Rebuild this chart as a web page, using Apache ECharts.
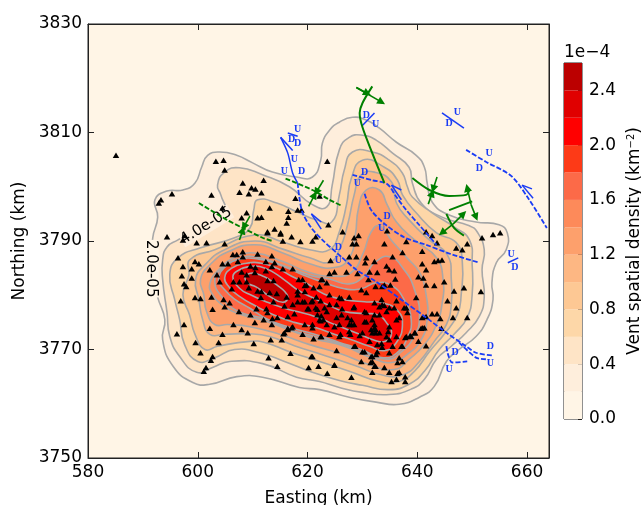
<!DOCTYPE html>
<html><head><meta charset="utf-8">
<style>html,body{margin:0;padding:0;background:#fff}#c{width:641px;height:505px}</style>
<script src="https://cdn.jsdelivr.net/npm/echarts@6/dist/echarts.min.js"></script>
</head><body><div id="c"></div>
<script>
const bandColors=['#fff5e6','#feeedc','#fee4c6','#fdd7a8','#fdc894','#fdb783','#fda06c','#fd8a5a','#fc6a48','#fd3a17','#ff0000','#e00000','#bb0000'];
const bandWidth=0.2;
const L1=[[592.2,3797.6],[594.4,3799.2],[597.3,3799.4],[599.5,3800.7],[600.7,3803.6],[601.8,3805.8],[604.0,3806.4],[607.1,3805.8],[610.0,3804.4],[613.6,3802.7],[618.0,3801.8],[620.9,3801.8],[622.4,3804.9],[622.7,3808.0],[624.0,3810.4],[625.8,3811.9],[628.2,3812.8],[630.7,3812.3],[633.1,3810.8],[636.2,3808.2],[639.8,3805.8],[641.3,3803.6],[641.8,3800.7],[642.7,3797.2],[645.8,3794.8],[650.7,3793.5],[654.9,3793.0],[656.4,3791.5],[656.2,3788.4],[654.4,3786.0],[653.6,3782.3],[653.8,3779.2],[652.7,3775.5],[650.7,3772.4],[647.6,3770.0],[645.3,3767.8],[643.1,3763.2],[640.4,3761.2],[636.7,3759.9],[632.5,3760.3],[627.6,3761.2],[622.2,3762.6],[618.5,3763.0],[611.8,3764.9],[607.1,3765.0],[602.2,3763.6],[599.1,3763.9],[595.5,3766.9],[593.6,3771.8],[594.0,3775.5],[592.7,3779.6],[591.6,3784.7],[591.8,3790.6],[592.7,3794.4]];
const L2=[[593.6,3782.9],[593.6,3786.5],[594.4,3788.9],[596.4,3790.2],[600.4,3792.6],[604.9,3795.2],[604.2,3798.5],[603.6,3800.3],[604.9,3802.7],[607.6,3803.5],[611.8,3802.2],[616.7,3800.0],[620.9,3796.7],[623.5,3796.3],[624.5,3800.3],[625.8,3806.8],[627.6,3809.1],[630.0,3809.5],[632.5,3808.6],[635.5,3806.2],[638.5,3803.6],[639.1,3800.7],[640.7,3797.0],[644.5,3794.4],[649.5,3792.8],[650.9,3791.7],[652.2,3788.4],[651.8,3784.7],[652.2,3779.7],[651.3,3776.1],[648.9,3773.1],[646.2,3770.6],[643.5,3768.2],[641.3,3764.5],[638.9,3762.7],[634.9,3761.7],[630.0,3762.1],[625.8,3763.0],[622.2,3764.1],[618.0,3764.9],[611.8,3767.4],[605.8,3767.8],[602.7,3766.7],[599.8,3765.8],[596.7,3768.7],[594.9,3772.4],[594.4,3776.8]];
const L3=[[596.4,3786.9],[600.4,3788.7],[606.7,3790.6],[609.5,3792.4],[610.2,3795.7],[610.9,3797.6],[614.4,3797.0],[618.0,3795.4],[621.6,3793.9],[624.4,3793.5],[625.8,3798.5],[626.7,3803.1],[628.2,3806.4],[631.8,3806.4],[634.9,3804.9],[637.3,3802.5],[638.2,3800.0],[639.1,3798.1],[642.7,3795.2],[646.7,3792.6],[649.5,3790.2],[650.0,3785.6],[650.0,3780.1],[649.1,3775.9],[646.7,3772.8],[644.0,3770.0],[641.3,3766.0],[638.5,3763.6],[634.9,3762.6],[630.0,3763.4],[625.8,3764.3],[620.4,3766.0],[615.8,3767.8],[611.3,3769.4],[606.7,3770.0],[603.1,3768.5],[600.0,3767.8],[597.6,3770.9],[596.7,3775.5],[595.8,3779.2],[594.9,3783.8]];
const L4=[[598.5,3786.5],[603.1,3788.4],[610.4,3791.1],[615.5,3789.8],[620.4,3788.4],[624.0,3788.4],[625.8,3791.7],[627.1,3796.7],[628.0,3801.6],[630.0,3804.9],[634.0,3803.6],[636.4,3801.2],[637.3,3798.5],[639.8,3795.2],[643.5,3791.5],[647.1,3789.7],[648.2,3786.2],[648.0,3780.1],[647.3,3776.4],[644.9,3772.8],[642.2,3769.6],[639.5,3766.0],[636.7,3764.1],[633.1,3764.1],[627.6,3766.0],[622.2,3767.8],[616.7,3769.6],[612.2,3771.3],[609.5,3771.5],[603.6,3770.6],[601.3,3770.0],[599.5,3772.8],[598.5,3776.4],[597.3,3780.1],[598.4,3783.8]];
const L5=[[599.6,3782.9],[601.3,3785.6],[604.9,3788.4],[610.4,3790.0],[615.5,3788.5],[620.4,3786.9],[624.0,3786.1],[625.8,3788.4],[627.3,3793.0],[628.5,3798.5],[629.8,3802.2],[632.2,3802.7],[635.3,3800.9],[636.2,3797.0],[638.5,3793.9],[642.2,3790.2],[645.5,3787.4],[646.2,3782.9],[646.2,3778.3],[645.3,3774.6],[643.1,3771.5],[640.4,3767.8],[637.6,3765.4],[634.0,3765.2],[628.5,3767.1],[623.1,3768.9],[617.6,3770.7],[613.1,3772.4],[609.5,3772.9],[604.9,3772.8],[602.2,3772.8],[600.9,3775.5],[600.2,3779.2]];
const L6=[[600.5,3782.9],[602.2,3785.6],[605.5,3788.0],[610.4,3789.3],[615.5,3787.8],[620.4,3785.8],[624.9,3785.1],[627.6,3786.9],[628.7,3791.1],[629.3,3796.1],[630.7,3799.4],[633.1,3799.4],[634.5,3796.7],[636.2,3793.5],[639.5,3790.2],[643.5,3786.9],[644.7,3782.9],[644.5,3778.3],[643.5,3774.6],[641.3,3770.9],[638.5,3768.2],[635.8,3766.3],[631.3,3767.2],[625.8,3769.3],[620.4,3770.9],[614.9,3772.8],[609.5,3774.2],[605.5,3774.6],[603.1,3774.6],[601.6,3777.0],[601.1,3780.1]];
const L8=[[602.2,3782.1],[603.8,3784.7],[606.7,3786.9],[610.4,3787.8],[615.5,3786.2],[620.4,3784.2],[624.9,3783.5],[628.0,3784.2],[630.2,3787.9],[631.5,3791.5],[633.1,3792.8],[635.3,3790.1],[638.2,3786.8],[640.4,3784.2],[641.6,3780.1],[641.8,3775.5],[640.7,3771.8],[638.2,3769.1],[635.3,3767.6],[631.6,3768.5],[626.7,3770.6],[621.3,3772.0],[616.4,3773.7],[612.2,3775.3],[609.5,3776.0],[606.2,3777.1],[604.0,3778.6],[602.7,3780.1]];
const L9=[[603.1,3782.5],[604.5,3785.0],[607.6,3786.7],[610.4,3787.1],[615.5,3785.5],[620.4,3783.7],[624.0,3783.0],[627.6,3782.1],[630.4,3783.6],[632.2,3786.0],[634.9,3787.1],[637.6,3784.7],[639.5,3781.0],[640.4,3775.9],[639.3,3772.2],[637.1,3769.6],[634.5,3768.2],[630.4,3769.4],[625.8,3771.1],[621.3,3772.4],[616.7,3773.7],[612.2,3775.7],[609.5,3776.3],[606.7,3777.4],[604.7,3779.3]];
const L10=[[603.8,3782.9],[605.1,3785.3],[607.6,3786.6],[610.9,3786.7],[614.9,3785.6],[619.1,3783.8],[623.1,3782.3],[626.7,3781.2],[629.8,3781.2],[632.5,3782.3],[635.3,3781.8],[637.6,3779.2],[638.9,3775.5],[638.2,3772.2],[636.2,3769.3],[633.5,3768.5],[629.8,3770.0],[625.8,3771.3],[621.3,3772.8],[616.7,3774.1],[612.7,3775.6],[609.5,3777.6],[606.7,3779.3],[604.9,3781.0]];
const L11=[[604.9,3783.2],[606.2,3785.0],[608.9,3785.9],[611.6,3785.9],[614.4,3785.0],[617.1,3783.5],[620.0,3782.1],[623.1,3780.2],[626.7,3779.2],[630.4,3778.8],[633.6,3778.6],[636.4,3777.2],[637.3,3774.6],[636.2,3771.3],[634.0,3769.8],[631.3,3770.6],[628.0,3771.8],[624.9,3772.8],[621.3,3774.1],[617.6,3775.0],[614.0,3776.3],[610.4,3778.1],[607.6,3779.8],[605.8,3781.4]];
const L12=[[606.4,3783.4],[607.6,3784.7],[609.5,3785.3],[611.3,3785.3],[613.5,3784.4],[616.2,3782.5],[618.5,3780.8],[621.3,3779.4],[624.0,3778.1],[626.7,3777.0],[630.4,3776.6],[632.7,3776.4],[634.5,3774.8],[635.3,3772.9],[634.2,3771.5],[632.2,3771.7],[629.5,3772.8],[626.7,3773.9],[624.0,3775.0],[621.3,3776.1],[618.5,3776.9],[615.8,3777.6],[612.7,3778.7],[609.8,3780.0],[607.6,3781.3]];
const L13=[[608.9,3783.8],[611.3,3783.8],[614.4,3781.9],[616.4,3779.8],[615.5,3778.7],[613.1,3779.8],[610.7,3781.5],[608.9,3782.4]];
const contourLevels=[L1,L2,L3,L4,L5,L6,L8,L9,L10,L11,L12,L13];
const vents=[[585.1,3805.8],[603.3,3804.7],[604.7,3804.9],[604.9,3803.1],[608.2,3800.7],[612.0,3801.2],[609.8,3799.8],[610.5,3799.6],[607.6,3799.0],[609.3,3798.7],[611.6,3798.9],[617.8,3797.9],[602.5,3798.5],[595.3,3798.7],[593.3,3797.6],[592.9,3797.0],[604.5,3796.1],[608.9,3795.2],[613.1,3796.1],[616.5,3795.5],[618.2,3795.7],[618.9,3795.7],[616.5,3794.4],[616.2,3793.3],[608.0,3794.3],[610.9,3794.3],[611.6,3794.4],[614.0,3792.2],[612.7,3791.7],[615.1,3791.3],[617.1,3790.8],[615.5,3790.0],[618.7,3789.9],[621.5,3790.8],[620.9,3790.0],[594.4,3790.8],[597.6,3791.0],[597.3,3790.2],[599.8,3789.7],[601.6,3789.7],[604.9,3789.5],[622.2,3798.3],[623.8,3793.0],[623.6,3804.7],
[596.4,3786.9],[597.3,3785.3],[597.1,3783.6],[598.9,3784.9],[599.5,3786.2],[600.2,3785.8],[598.9,3783.2],[597.5,3782.1],[597.9,3781.6],[596.9,3779.0],[599.5,3779.6],[600.5,3779.4],[602.2,3784.7],[603.5,3783.8],[604.0,3782.5],[602.5,3779.7],[602.7,3777.4],[604.7,3779.2],[605.8,3778.6],[604.9,3777.9],[607.5,3777.0],[609.6,3776.4],[610.4,3775.0],[612.0,3775.5],[606.5,3774.6],[608.0,3773.7],[609.1,3773.1],[604.5,3772.8],[602.2,3773.9],[597.5,3774.6],[596.2,3772.9],[599.6,3771.3],[603.8,3771.3],[610.2,3771.1],[613.3,3771.8],[615.3,3771.8],[600.5,3769.4],[602.7,3768.7],[602.4,3768.0],[601.5,3766.7],[601.1,3766.0],[612.9,3768.5],[616.9,3769.3],[620.9,3768.7],[614.5,3766.9],[620.2,3766.7],[622.0,3766.9],[623.6,3765.6],
[606.4,3787.5],[607.1,3787.5],[608.2,3788.0],[608.2,3787.1],[610.9,3787.6],[613.5,3787.3],[612.4,3786.2],[614.0,3786.0],[615.5,3784.9],[617.3,3784.9],[604.5,3785.8],[605.5,3785.8],[607.3,3786.2],[609.6,3785.4],[610.5,3785.1],[612.4,3784.5],[613.5,3785.3],[608.0,3784.3],[610.4,3784.2],[608.9,3783.8],[607.6,3782.5],[606.5,3782.5],[608.9,3782.5],[609.3,3781.4],[606.2,3781.2],[612.7,3782.7],[613.8,3782.7],[610.9,3780.8],[611.6,3780.7],[613.1,3780.5],[614.4,3780.3],[611.5,3779.6],[613.8,3778.8],[616.2,3779.7],[615.8,3778.0],[618.2,3778.8],[619.1,3778.8],[618.4,3782.9],[619.1,3782.9],[619.8,3781.9],[621.1,3781.4],[622.7,3782.9],[622.2,3781.6],[618.2,3780.8],[610.7,3777.5],[612.5,3777.5],[612.7,3776.8],[614.5,3775.9],[613.6,3775.7],[616.4,3776.1],[617.6,3776.6],[620.2,3777.5],[621.5,3777.7],[622.4,3779.0],[620.9,3779.0],[623.1,3777.7],[621.8,3776.4],[622.4,3775.3],[622.9,3775.5],[613.5,3774.6],[617.1,3774.0],[616.4,3773.9],[615.6,3772.9],[620.9,3774.0],[619.1,3772.8],[622.4,3772.4],[621.1,3772.0],[624.0,3772.8],
[612.7,3791.5],[615.1,3791.5],[628.5,3790.6],[628.2,3789.5],[628.9,3789.5],[634.0,3789.5],[624.2,3786.4],[627.6,3787.1],[628.9,3787.1],[630.7,3786.9],[635.5,3787.1],[630.5,3786.0],[632.2,3786.2],[634.4,3785.4],[631.3,3784.3],[632.7,3784.2],[634.9,3784.7],[635.8,3784.5],[629.1,3784.0],[627.1,3784.3],[624.9,3784.3],[624.0,3784.0],[631.1,3782.9],[634.0,3781.9],[635.1,3781.9],[636.0,3783.0],[633.6,3781.6],[632.4,3781.6],[629.8,3781.0],[630.7,3780.5],[627.6,3779.7],[623.5,3782.3],[622.5,3782.9],[619.5,3781.8],[619.5,3780.7],[618.2,3780.1],[621.6,3779.7],[624.0,3780.1],[625.8,3779.6],[633.5,3779.2],[632.2,3778.6],[634.0,3778.1],[633.1,3777.9],[636.2,3779.0],[635.8,3777.7],[634.4,3777.0],[628.4,3777.7],[630.7,3776.8],[631.8,3775.5],[630.7,3775.1],[636.2,3775.5],[624.0,3778.3],[626.2,3779.4],[625.3,3778.3],[619.5,3778.8],[620.7,3778.8],[621.8,3777.4],[620.0,3777.5],[617.3,3778.3],[623.5,3777.0],[627.3,3775.9],[628.0,3774.6],[626.2,3776.4],[625.3,3775.9],[622.5,3776.2],[622.2,3775.5],[623.5,3774.6],[624.9,3774.2],[620.9,3774.6],[619.5,3774.6],[617.3,3774.2],[629.5,3772.6],[632.2,3774.0],[631.8,3773.1],[633.1,3773.1],[634.4,3772.4],[632.7,3770.9],[628.7,3770.6],[630.4,3769.6],[632.7,3769.6],[633.6,3770.4],[635.5,3770.6],[622.5,3772.4],[626.0,3772.8],[627.6,3773.3],[616.4,3773.7],[615.8,3773.1],[625.3,3769.8],[620.7,3768.7],[629.8,3767.8],[632.5,3769.1],[631.5,3767.6],[632.4,3766.9],[624.9,3767.2],[634.0,3766.7],[634.9,3765.8],[636.4,3765.6],[631.8,3765.8],
[626.4,3791.7],[629.3,3791.0],[634.5,3791.9],[638.0,3789.9],[641.6,3791.7],[642.7,3791.0],[643.6,3789.7],[640.9,3788.1],[647.1,3788.7],[648.2,3788.4],[649.1,3789.5],[651.8,3790.6],[653.8,3791.2],[655.1,3791.5],[637.3,3787.9],[643.1,3786.2],[643.8,3786.4],[644.5,3786.5],[640.9,3785.8],[641.6,3784.7],[640.2,3783.4],[641.1,3783.2],[641.6,3781.9],[643.1,3781.8],[644.9,3782.5],[646.7,3780.8],[648.5,3781.4],[651.6,3780.7],[645.5,3779.0],[647.1,3777.7],[639.8,3779.6],[638.0,3777.7],[649.1,3775.9],[646.5,3775.9],[644.2,3775.7],[642.7,3776.6],[643.6,3776.6],[641.6,3776.1],[641.3,3774.0],[640.7,3773.9],[644.4,3773.9],[639.6,3773.1],[638.7,3772.6],[637.8,3772.2],[636.2,3772.4],[640.2,3771.5],[641.6,3770.7],[637.3,3770.6],[634.9,3769.4],[630.0,3769.6],[631.6,3768.7],[636.7,3768.5],[637.3,3767.8],[636.4,3767.6],[631.8,3767.8],[632.2,3766.9],[637.8,3765.0],[636.7,3765.8],[636.2,3764.5],[635.3,3764.1],[637.8,3764.1],[628.0,3764.9],[624.9,3767.1],
[633.6,3778.3],[630.4,3777.0],[628.5,3777.9],[626.3,3777.5],[632.2,3776.4],[633.1,3776.4],[634.9,3777.7],[636.7,3775.9],[637.6,3777.7],[638.2,3776.8],[630.4,3775.1],[628.0,3775.5],[627.6,3774.6],[628.5,3774.6],[625.8,3774.6],[632.2,3774.6],[634.9,3774.2],[632.4,3773.7],[631.6,3773.7],[632.4,3773.1],[630.0,3773.1],[634.7,3773.3],[627.8,3772.8],[631.3,3771.5],[633.5,3771.1],[634.9,3771.8],[637.1,3770.6],[638.0,3772.4],[638.9,3772.4],[639.5,3773.1],[641.0,3774.0],[640.9,3775.9],[625.8,3772.4],[628.5,3770.6],[631.8,3768.7]];
const blueSolid=[
 [[615.1,3809.1],[616.4,3806.2],[617.3,3802.5],[618.2,3800.7]],
 [[644.5,3813.6],[648.5,3810.8]],
 [[632.2,3813.6],[630.0,3811.3]],
 [[656.5,3786.0],[658.4,3786.9]],
 [[616.4,3809.9],[618.2,3809.3]],
 [[615.1,3809.1],[617.3,3806.7]],
 [[620.7,3795.0],[622.5,3793.5]],[[620.7,3795.0],[622.5,3792.2]],
 [[635.3,3800.3],[637.1,3799.4]],[[635.3,3800.3],[637.1,3797.6]],
 [[659.1,3800.3],[660.9,3799.6]],[[659.1,3800.3],[661.1,3797.9]]];
const blueDashed=[
 [[618.2,3800.7],[618.5,3798.1],[619.1,3795.2],[620.7,3792.4],[622.7,3790.2],[625.8,3787.4],[628.9,3784.7],[632.5,3782.5],[637.6,3778.8],[641.6,3775.9],[645.3,3773.1],[648.9,3770.6],[650.7,3769.4],[653.6,3768.9]],
 [[647.6,3771.3],[650.7,3768.5],[652.5,3768.2]],
 [[645.3,3770.6],[645.6,3769.1],[646.4,3767.6],[649.1,3767.8]],
 [[628.2,3802.2],[631.8,3801.2],[634.5,3800.5],[636.2,3798.1],[638.0,3795.7],[640.4,3792.9],[643.5,3789.3]],
 [[630.4,3798.7],[631.6,3795.7],[634.0,3793.2],[637.6,3790.7],[641.6,3789.3],[646.4,3787.5],[651.3,3786.0]],
 [[648.9,3806.8],[652.5,3804.6],[657.1,3802.0],[660.4,3797.6],[663.6,3792.4]]];
const greenDashed=[
 [[600.2,3797.0],[605.3,3793.9],[608.2,3792.4],[611.8,3790.6],[613.6,3790.0]],
 [[616.0,3801.5],[620.9,3799.4],[624.0,3797.6],[626.2,3796.5]]];
const greenSolid=[
 [[631.8,3818.5],[630.0,3815.4],[629.5,3813.6],[630.0,3811.0],[631.8,3806.2],[634.0,3800.7]],
 [[639.1,3801.6],[642.2,3799.4],[645.8,3798.3],[648.9,3798.5],[649.5,3799.4]],
 [[645.8,3795.7],[650.0,3797.3]],
 [[645.3,3795.0],[646.7,3792.4],[648.5,3791.0]]];
const greenArrows=[
 [[609.5,3794.6],[608.4,3792.6]],[[607.6,3790.2],[608.2,3792.0]],
 [[622.9,3801.2],[621.6,3799.0]],[[620.2,3796.4],[621.3,3798.5]],
 [[628.9,3818.3],[633.5,3815.6]],[[628.9,3818.3],[630.9,3817.2]],
 [[643.6,3801.8],[642.9,3799.6]],[[642.0,3796.8],[642.7,3798.8]],
 [[649.8,3796.7],[649.1,3799.8]],[[649.8,3796.7],[650.7,3794.4]],
 [[646.5,3793.1],[648.4,3795.0]],[[646.5,3793.1],[644.5,3791.5]]];
const faultLabels=[[618.2,3810.6,'U'],[617.1,3808.8,'D'],[618.2,3807.9,'D'],[617.6,3805.1,'U'],[615.8,3802.9,'U'],[618.9,3802.9,'D'],[630.7,3813.2,'D'],[632.4,3811.5,'U'],[647.3,3813.7,'U'],[645.8,3811.7,'D'],[653.1,3806.2,'U'],[651.3,3803.4,'D'],[630.4,3802.7,'D'],[629.1,3800.7,'U'],[634.5,3794.5,'D'],[633.5,3792.4,'U'],[625.6,3788.9,'D'],[625.6,3786.5,'U'],[657.1,3787.6,'U'],[657.8,3785.2,'D'],[646.9,3769.4,'D'],[645.8,3766.3,'U'],[653.3,3770.6,'D'],[653.3,3767.4,'U']];
const contourLabels=[[591.5,3784.9,'2.0e-05',-Math.PI/2,'#fff5e6'],[601.5,3792.8,'4.0e-05',0.55,'#feeedc']];

const FONT='"DejaVu Sans"';
const BLUE='#1a3cf5',GREEN='#008000',GRAY='#a8a8a8';
const series=[];
contourLevels.forEach((pts,i)=>{
  series.push({type:'custom',coordinateSystem:'cartesian2d',xAxisIndex:0,yAxisIndex:0,z:2+i*0.01,clip:true,silent:true,
    data:pts,encode:{x:0,y:1},
    renderItem(params,api){
      if(params.dataIndex!==0)return null;
      return {type:'polygon',shape:{points:pts.map(p=>api.coord(p)),smooth:0.5,smoothConstraint:false},
        style:{fill:bandColors[i+1],stroke:GRAY,lineWidth:1.6}};
    }});
});
series.push({type:'custom',coordinateSystem:'cartesian2d',xAxisIndex:0,yAxisIndex:0,z:3,data:contourLabels.map(r=>[r[0],r[1]]),encode:{x:0,y:1},
  renderItem(params,api){
    const r=contourLabels[params.dataIndex],c=api.coord([r[0],r[1]]);
    return {type:'text',x:c[0],y:c[1],rotation:r[3],style:{text:r[2],fill:'#000',font:'15px '+FONT,align:'center',verticalAlign:'middle',backgroundColor:r[4]}};
  }});
series.push({type:'scatter',xAxisIndex:0,yAxisIndex:0,z:4,data:vents,symbol:'triangle',symbolSize:[6.5,5.5],itemStyle:{color:'#000',opacity:1},silent:true});
function addLines(list,color,type,width){
  list.forEach(d=>series.push({type:'line',xAxisIndex:0,yAxisIndex:0,z:5,data:d,showSymbol:false,symbol:'none',smooth:d.length>2?0.3:false,silent:true,
    lineStyle:{color:color,width:width,type:type}}));
}
addLines(blueSolid,BLUE,'solid',1.5);
addLines(blueDashed,BLUE,[5,2],1.8);
addLines(greenDashed,GREEN,[5,2],1.9);
addLines(greenSolid,GREEN,'solid',2);
series.push({type:'lines',coordinateSystem:'cartesian2d',xAxisIndex:0,yAxisIndex:0,z:6,polyline:false,silent:true,
  symbol:['none','triangle'],symbolSize:8,lineStyle:{color:GREEN,width:1.6,opacity:1,curveness:0},
  data:greenArrows.map(c=>({coords:c}))});
series.push({type:'custom',coordinateSystem:'cartesian2d',xAxisIndex:0,yAxisIndex:0,z:7,data:faultLabels.map(r=>[r[0],r[1]]),encode:{x:0,y:1},
  renderItem(params,api){
    const r=faultLabels[params.dataIndex],c=api.coord([r[0],r[1]]);
    return {type:'text',x:c[0],y:c[1],style:{text:r[2],fill:BLUE,font:'bold 10px "Liberation Serif"',align:'center',verticalAlign:'middle'}};
  }});
bandColors.forEach((col,i)=>series.push({type:'bar',xAxisIndex:2,yAxisIndex:2,stack:'cb',barWidth:'100%',data:[bandWidth],itemStyle:{color:col},silent:true,z:2}));

const lab={color:'#000',fontFamily:FONT,fontSize:17};
const line={lineStyle:{color:'#222',width:1}};
const tick={show:true,inside:true,length:6,lineStyle:{color:'#222',width:1}};
const option={
 animation:false,backgroundColor:'#fff',
 grid:[
  {left:88,right:92,top:24,bottom:47,show:true,backgroundColor:bandColors[0],borderColor:'#222',borderWidth:1,outerBoundsMode:'none'},
  {left:564,width:18,top:63,height:356,show:true,backgroundColor:'transparent',borderColor:'#222',borderWidth:1,outerBoundsMode:'none'}
 ],
 xAxis:[
  {gridIndex:0,type:'value',min:580,max:664,interval:20,name:'Easting (km)',nameLocation:'middle',nameGap:32,nameTextStyle:lab,
   axisLine:line,axisTick:tick,axisLabel:{...lab,margin:6,showMaxLabel:false,formatter:v=>String(v)},splitLine:{show:false}},
  {gridIndex:0,type:'value',position:'top',min:580,max:664,interval:20,axisLine:line,axisTick:tick,axisLabel:{show:false},splitLine:{show:false}},
  {gridIndex:1,type:'category',data:['density'],axisLine:{show:false},axisTick:{show:false},axisLabel:{show:false},splitLine:{show:false}}
 ],
 yAxis:[
  {gridIndex:0,type:'value',min:3750,max:3830,interval:20,name:'Northing (km)',nameLocation:'middle',nameGap:59,nameTextStyle:lab,
   axisLine:line,axisTick:tick,axisLabel:{...lab,margin:6,formatter:v=>String(v)},splitLine:{show:false}},
  {gridIndex:0,type:'value',position:'right',min:3750,max:3830,interval:20,axisLine:line,axisTick:tick,axisLabel:{show:false},splitLine:{show:false}},
  {gridIndex:1,type:'value',position:'right',min:0,max:2.6,interval:0.4,name:'Vent spatial density (km{sup|\u22122})',nameLocation:'middle',nameRotate:90,nameGap:44,
   nameTextStyle:{...lab,rich:{sup:{fontFamily:FONT,fontSize:10,color:'#000',padding:[0,0,8,0]}}},
   axisLine:{show:false},axisTick:{show:true,inside:true,length:4,lineStyle:{color:'#222',width:1}},
   axisLabel:{...lab,margin:7,showMaxLabel:false,formatter:v=>v.toFixed(1)},splitLine:{show:false}}
 ],
 graphic:[{type:'text',left:564,top:44,style:{text:'1e\u22124',fill:'#000',font:'17px '+FONT}}],
 series
};
echarts.init(document.getElementById('c'),null,{renderer:'canvas'}).setOption(option);
</script></body></html>
